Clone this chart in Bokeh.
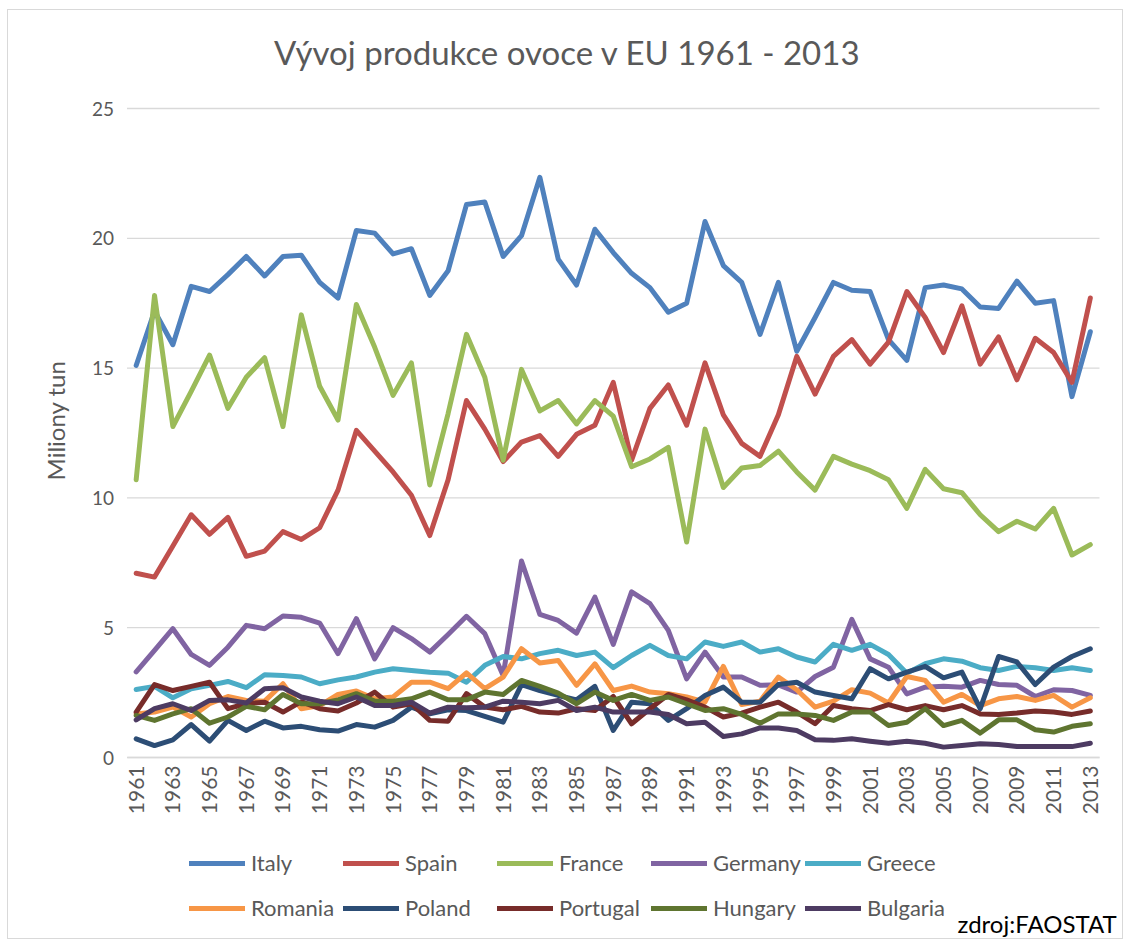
import math
from bokeh.plotting import figure
from bokeh.models import Range1d, FixedTicker, Legend, LegendItem, Label, LinearAxis
from bokeh.embed import file_html
from bokeh.resources import INLINE

years = list(range(1961, 2014))

italy = [15.1, 17.2, 15.9, 18.15, 17.95, 18.6, 19.3, 18.55, 19.3, 19.35,
         18.3, 17.7, 20.3, 20.2, 19.4, 19.6, 17.8, 18.75, 21.3, 21.4,
         19.3, 20.1, 22.35, 19.2, 18.2, 20.35, 19.45, 18.65, 18.1, 17.15,
         17.5, 20.65, 18.95, 18.3, 16.3, 18.3, 15.65, 16.95, 18.3, 18.0,
         17.95, 16.1, 15.3, 18.1, 18.2, 18.05, 17.35, 17.3, 18.35, 17.5,
         17.6, 13.9, 16.4]
spain = [7.1, 6.95, 8.15, 9.35, 8.6, 9.25, 7.75, 7.95, 8.7, 8.4,
         8.85, 10.3, 12.6, 11.8, 11.0, 10.1, 8.55, 10.7, 13.75, 12.65,
         11.4, 12.15, 12.4, 11.6, 12.45, 12.8, 14.45, 11.45, 13.45, 14.35,
         12.8, 15.2, 13.2, 12.1, 11.6, 13.2, 15.45, 14.0, 15.45, 16.1,
         15.15, 16.0, 17.95, 16.95, 15.6, 17.4, 15.15, 16.2, 14.55, 16.15,
         15.6, 14.45, 17.7]
france = [10.7, 17.8, 12.75, 14.1, 15.5, 13.45, 14.65, 15.4, 12.75, 17.05,
          14.3, 13.0, 17.45, 15.8, 13.95, 15.2, 10.5, 13.25, 16.3, 14.65,
          11.45, 14.95, 13.35, 13.75, 12.85, 13.75, 13.15, 11.2, 11.5, 11.95,
          8.3, 12.65, 10.4, 11.15, 11.25, 11.8, 11.0, 10.3, 11.6, 11.3,
          11.05, 10.7, 9.6, 11.1, 10.35, 10.2, 9.35, 8.7, 9.1, 8.8,
          9.6, 7.8, 8.2]
germany = [3.3, 4.13, 4.96, 3.97, 3.55, 4.25, 5.09, 4.96, 5.45, 5.4,
           5.18, 4.0, 5.35, 3.8, 5.0, 4.58, 4.06, 4.74, 5.44, 4.77,
           3.16, 7.57, 5.51, 5.28, 4.79, 6.18, 4.36, 6.38, 5.93, 4.9,
           3.03, 4.06, 3.1, 3.1, 2.78, 2.8, 2.52, 3.12, 3.48, 5.32,
           3.8, 3.48, 2.45, 2.71, 2.74, 2.71, 2.97, 2.81, 2.78, 2.35,
           2.61, 2.58, 2.39]
greece = [2.62, 2.74, 2.3, 2.65, 2.78, 2.93, 2.69, 3.19, 3.16, 3.1,
          2.84, 2.99, 3.1, 3.29, 3.42, 3.35, 3.28, 3.25, 2.9, 3.55,
          3.89, 3.8, 4.0, 4.13, 3.93, 4.06, 3.46, 3.93, 4.32, 3.93,
          3.8, 4.45, 4.28, 4.45, 4.06, 4.19, 3.87, 3.68, 4.36, 4.13,
          4.36, 3.97, 3.25, 3.61, 3.8, 3.71, 3.46, 3.35, 3.51, 3.46,
          3.35, 3.46, 3.35]
romania = [1.68, 1.75, 1.94, 1.56, 2.07, 2.35, 2.2, 2.17, 2.84, 1.88,
           2.0, 2.43, 2.56, 2.26, 2.33, 2.9, 2.9, 2.65, 3.26, 2.65,
           3.1, 4.19, 3.64, 3.74, 2.78, 3.61, 2.58, 2.75, 2.52, 2.46,
           2.33, 2.13, 3.51, 2.04, 2.17, 3.1, 2.61, 1.94, 2.17, 2.61,
           2.48, 2.1, 3.12, 2.97, 2.13, 2.43, 2.0, 2.26, 2.35, 2.2,
           2.39, 1.94, 2.3]
poland = [0.72, 0.46, 0.68, 1.27, 0.63, 1.43, 1.04, 1.4, 1.14, 1.2,
          1.07, 1.02, 1.27, 1.17, 1.43, 1.94, 1.68, 1.84, 1.81, 1.58,
          1.36, 2.81, 2.58, 2.39, 2.22, 2.74, 1.04, 2.13, 2.07, 1.43,
          1.88, 2.39, 2.71, 2.13, 2.13, 2.81, 2.9, 2.52, 2.39, 2.26,
          3.42, 3.03, 3.29, 3.51, 3.07, 3.29, 1.88, 3.89, 3.68, 2.81,
          3.48, 3.89, 4.19]
portugal = [1.75, 2.81, 2.58, 2.74, 2.9, 1.88, 2.07, 2.13, 1.75, 2.15,
            1.88, 1.79, 2.1, 2.52, 1.94, 2.07, 1.43, 1.4, 2.46, 1.94,
            1.84, 1.97, 1.75, 1.71, 1.88, 1.81, 2.35, 1.3, 1.88, 2.43,
            2.22, 1.94, 1.56, 1.71, 1.94, 2.13, 1.75, 1.3, 2.0, 1.88,
            1.81, 2.04, 1.84, 2.0, 1.84, 2.0, 1.68, 1.66, 1.71, 1.79,
            1.75, 1.66, 1.79]
hungary = [1.62, 1.43, 1.68, 1.88, 1.32, 1.56, 1.97, 1.84, 2.43, 2.07,
           2.07, 2.22, 2.46, 2.17, 2.17, 2.26, 2.52, 2.22, 2.22, 2.52,
           2.43, 2.97, 2.74, 2.48, 2.07, 2.52, 2.2, 2.43, 2.2, 2.33,
           2.07, 1.81, 1.88, 1.66, 1.32, 1.68, 1.68, 1.62, 1.43, 1.75,
           1.75, 1.23, 1.36, 1.88, 1.23, 1.43, 0.94, 1.45, 1.45, 1.07,
           0.98, 1.2, 1.3]
bulgaria = [1.45, 1.88, 2.07, 1.81, 2.2, 2.22, 2.1, 2.65, 2.69, 2.33,
            2.17, 2.07, 2.33, 2.0, 2.0, 2.13, 1.71, 1.94, 1.92, 1.94,
            2.17, 2.13, 2.07, 2.2, 1.81, 1.94, 1.75, 1.75, 1.75, 1.66,
            1.3, 1.36, 0.81, 0.91, 1.14, 1.14, 1.04, 0.68, 0.66, 0.72,
            0.63, 0.55, 0.63, 0.55, 0.4, 0.46, 0.53, 0.5, 0.42, 0.42,
            0.42, 0.42, 0.55]

countries = ["Italy", "Spain", "France", "Germany", "Greece",
             "Romania", "Poland", "Portugal", "Hungary", "Bulgaria"]
series = [italy, spain, france, germany, greece,
          romania, poland, portugal, hungary, bulgaria]
colors = ["#4F81BD", "#C0504D", "#9BBB59", "#8064A2", "#4BACC6",
          "#F79646", "#2C4D75", "#772C2A", "#5F7530", "#4D3B62"]
y_ticks = [0, 5, 10, 15, 20, 25]
x_ticks = years[::2]

title_text = "Vývoj produkce ovoce v EU 1961 - 2013"
y_label = "Miliony tun"
source_text = "zdroj:FAOSTAT"

FONT = "Lato"
GREY = "#595959"
GRID = "#D9D9D9"

# ---- geometry: page position of the canvas origin, canvas size ----
OX, OY = 8, 10
W, H = 1116, 930

def cx(page_x):          # page x -> screen x (from canvas left)
    return page_x - OX

def cy(page_y):          # page y -> screen y (from canvas bottom)
    return H - (page_y - OY)

PL, PR = cx(126.5), cx(1099.0)          # plot area left / right (canvas px)
PT, PB = 108.0 - OY, 757.0 - OY         # plot area top / bottom (canvas px from top)
x_lo, x_hi = years[0] - 0.5, years[-1] + 0.5
y_lo, y_hi = y_ticks[0], y_ticks[-1]
ppx = (PR - PL) / (x_hi - x_lo)
ppy = (PB - PT) / (y_hi - y_lo)
xr = Range1d(x_lo - PL / ppx, x_hi + (W - PR) / ppx)
yr = Range1d(y_lo - (H - PB) / ppy, y_hi + PT / ppy)

p = figure(width=W, height=H, output_backend="svg", toolbar_location=None,
           x_range=xr, y_range=yr, x_axis_location=None, y_axis_location=None,
           min_border=0, min_border_left=0, min_border_right=0,
           min_border_top=0, min_border_bottom=0)
p.styles = {"border": "1px solid #D9D9D9", "margin-left": "7px", "margin-top": "9px"}
p.outline_line_color = None
p.grid.visible = False
p.background_fill_color = "white"
p.border_fill_color = "white"

# horizontal gridlines over the plot area only
p.segment(x0=[x_lo] * len(y_ticks), x1=[x_hi] * len(y_ticks),
          y0=y_ticks, y1=y_ticks, line_color=GRID, line_width=1.3)

renderers = []
for name, vals, col in zip(countries, series, colors):
    r = p.line(years, vals, line_color=col, line_width=5,
               line_join="round", line_cap="round")
    renderers.append(r)

xaxis = LinearAxis(fixed_location=y_lo, bounds=(x_lo, x_hi),
                   ticker=FixedTicker(ticks=x_ticks))
xaxis.major_label_orientation = math.pi / 2
xaxis.major_label_text_font = FONT
xaxis.major_label_text_font_size = "21px"
xaxis.major_label_text_color = GREY
xaxis.major_tick_line_color = None
xaxis.major_tick_out = 0
xaxis.major_tick_in = 0
xaxis.minor_tick_line_color = None
xaxis.minor_tick_out = 0
xaxis.axis_line_color = GRID
xaxis.axis_line_width = 1.3
xaxis.major_label_standoff = 8
p.add_layout(xaxis, "below")

yaxis = LinearAxis(fixed_location=x_lo, bounds=(y_lo, y_hi),
                   ticker=FixedTicker(ticks=y_ticks))
yaxis.axis_line_color = None
yaxis.major_tick_line_color = None
yaxis.major_tick_out = 0
yaxis.major_tick_in = 0
yaxis.minor_tick_line_color = None
yaxis.minor_tick_out = 0
yaxis.major_label_standoff = 13
yaxis.major_label_text_font = FONT
yaxis.major_label_text_font_size = "19px"
yaxis.major_label_text_color = GREY
p.add_layout(yaxis, "left")

ITEM_H = 20

def make_legend(idx, row_center_page_y):
    items = [LegendItem(label=countries[i], renderers=[renderers[i]]) for i in idx]
    return Legend(items=items, orientation="horizontal",
                  location=(cx(189), cy(row_center_page_y) - ITEM_H / 2),
                  glyph_width=56, glyph_height=ITEM_H, label_standoff=6,
                  label_width=88, label_height=ITEM_H, spacing=4, padding=0, margin=0,
                  border_line_color=None, background_fill_alpha=0,
                  label_text_font=FONT, label_text_font_size="22px",
                  label_text_color=GREY)

p.add_layout(make_legend(range(0, 5), 866))
p.add_layout(make_legend(range(5, 10), 911))

p.add_layout(Label(x=cx(567), y=cy(51.5), x_units="screen", y_units="screen",
                   text=title_text, text_align="center", text_baseline="middle",
                   text_font=FONT, text_font_size="33px", text_color=GREY))
p.add_layout(Label(x=cx(55), y=cy(420), x_units="screen", y_units="screen",
                   text=y_label, angle=math.pi / 2, text_align="center",
                   text_baseline="middle", text_font=FONT, text_font_size="24px",
                   text_color=GREY))
p.add_layout(Label(x=cx(957), y=cy(923), x_units="screen", y_units="screen",
                   text=source_text, text_align="left", text_baseline="middle",
                   text_font=FONT, text_font_size="24px", text_color="black"))

open("out.html", "w").write(file_html(p, INLINE))
